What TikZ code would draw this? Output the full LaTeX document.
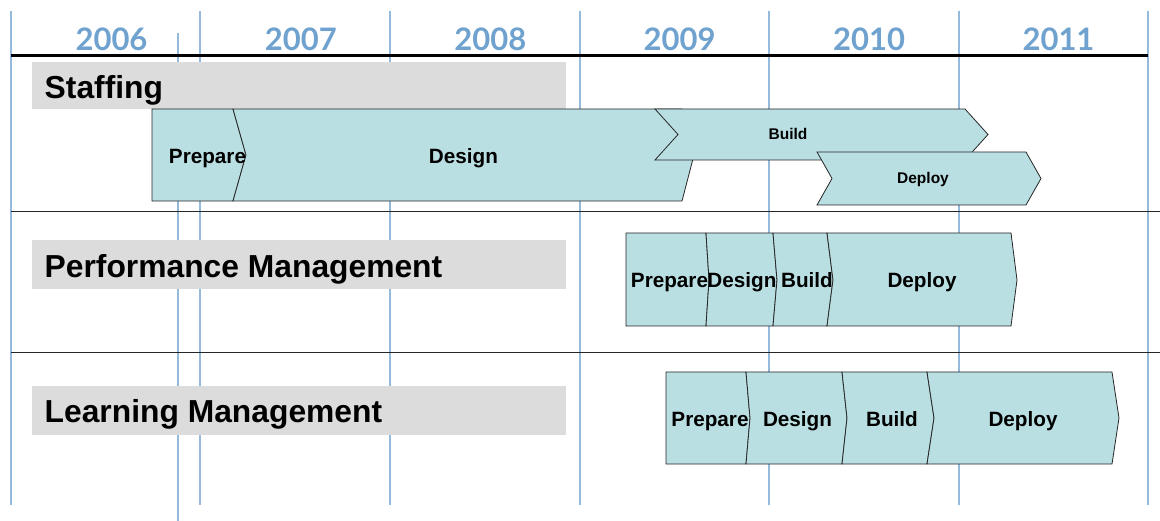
\documentclass[tikz,border=0pt]{standalone}
\usepackage{fontspec}
\setmainfont{Liberation Sans}
\newfontfamily\yearfont{Lato}

\definecolor{gridblue}{RGB}{150,186,220}
\definecolor{yearblue}{RGB}{111,162,206}
\definecolor{lanegray}{RGB}{220,220,220}
\definecolor{phasefill}{RGB}{186,223,227}

\tikzset{
  grid line/.style={draw=gridblue, line width=1.8pt},
  year/.style={font=\yearfont\bfseries\fontsize{31}{31}\selectfont, text=yearblue, anchor=base, inner sep=0pt},
  lane/.style={font=\bfseries\fontsize{31.8}{31.8}\selectfont, anchor=base west, inner sep=0pt},
  phase/.style={fill=phasefill, draw=black!85, line width=0.8pt, line join=miter},
  big phase/.style={font=\bfseries\fontsize{20.7}{20.7}\selectfont, anchor=base, inner sep=0pt},
  small phase/.style={font=\bfseries\fontsize{15.5}{15.5}\selectfont, anchor=base, inner sep=0pt},
}

\begin{document}
\begin{tikzpicture}[x=1pt, y=-1pt]
  \useasboundingbox (0,0) rectangle (1160,521);

  % year grid
  \foreach \x in {11,200,390,580,769,959,1148}
    \draw[grid line] (\x,11) -- (\x,505);
  \draw[grid line] (178,33) -- (178,521);
  \foreach \yr [count=\i from 0] in {2006,2007,2008,2009,2010,2011}
    \node[year] (y\yr) at ({111.5+189.4*\i},51) {\yr};

  % rows
  \draw[line width=2.2pt] (11,55.5) -- (1148,55.5);
  \draw[black!85, line width=1pt] (11,212) -- (1160,212);
  \draw[black!85, line width=1pt] (11,353) -- (1160,353);

  \fill[lanegray] (32,62) rectangle (566,109);
  \fill[lanegray] (32,240) rectangle (566,289);
  \fill[lanegray] (32,386) rectangle (566,435);
  \node[lane] (staffing) at (44.5,99) {Staffing};
  \node[lane] (perf) at (44.5,278) {Performance Management};
  \node[lane] (learn) at (44.5,423) {Learning Management};

  % Staffing phases
  \draw[phase] (152,109) -- (233,109) -- (246,155) -- (233,201) -- (152,201) -- cycle;
  \draw[phase] (233,109) -- (682,109) -- (694,155) -- (682,201) -- (233,201) -- (246,155) -- cycle;
  \draw[phase] (655,109) -- (965,109) -- (988,134.5) -- (965,160) -- (655,160) -- (678,134.5) -- cycle;
  \draw[phase] (817,152) -- (1026,152) -- (1041,178.5) -- (1026,205) -- (817,205) -- (832,178.5) -- cycle;
  \node[big phase] (sPrep) at (207.5,164) {Prepare};
  \node[big phase] (sDesign) at (463.5,164) {Design};
  \node[small phase] (sBuild) at (788,140) {Build};
  \node[small phase] (sDeploy) at (923,184) {Deploy};

  % Performance Management phases
  \draw[phase] (626,233) -- (706,233) -- (709,280) -- (706,326) -- (626,326) -- cycle;
  \draw[phase] (706,233) -- (773,233) -- (777,280) -- (773,326) -- (706,326) -- (709,280) -- cycle;
  \draw[phase] (773,233) -- (827,233) -- (833,280) -- (827,326) -- (773,326) -- (777,280) -- cycle;
  \draw[phase] (827,233) -- (1011,233) -- (1017,280) -- (1011,326) -- (827,326) -- (833,280) -- cycle;
  \node[big phase] (pPrep) at (669.5,288) {Prepare};
  \node[big phase] (pDesign) at (742,288) {Design};
  \node[big phase] (pBuild) at (807,288) {Build};
  \node[big phase] (pDeploy) at (922,288) {Deploy};

  % Learning Management phases
  \draw[phase] (666,372) -- (746,372) -- (750,418) -- (746,464) -- (666,464) -- cycle;
  \draw[phase] (746,372) -- (842,372) -- (847,418) -- (842,464) -- (746,464) -- (750,418) -- cycle;
  \draw[phase] (842,372) -- (927,372) -- (934,418) -- (927,464) -- (842,464) -- (847,418) -- cycle;
  \draw[phase] (927,372) -- (1112,372) -- (1119,418) -- (1112,464) -- (927,464) -- (934,418) -- cycle;
  \node[big phase] (lPrep) at (710,427) {Prepare};
  \node[big phase] (lDesign) at (797.5,427) {Design};
  \node[big phase] (lBuild) at (892,427) {Build};
  \node[big phase] (lDeploy) at (1023,427) {Deploy};
\end{tikzpicture}
\end{document}
